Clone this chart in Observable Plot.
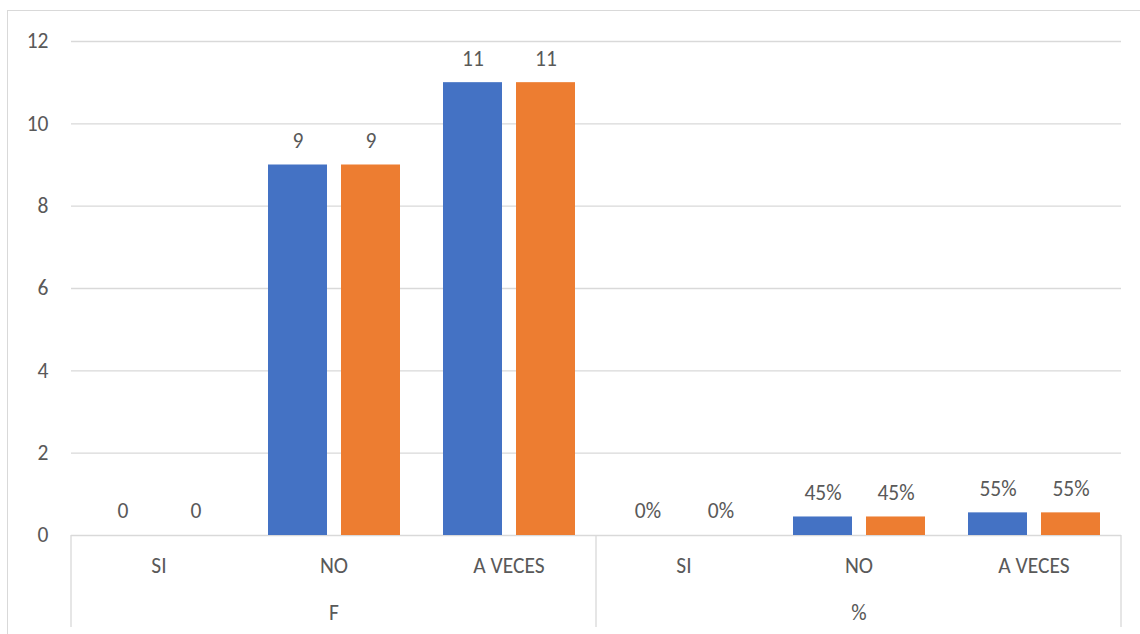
<!DOCTYPE html>
<html>
<head>
<meta charset="utf-8">
<script src="https://cdn.jsdelivr.net/npm/d3@7"></script>
<script src="https://cdn.jsdelivr.net/npm/@observablehq/plot@0.6"></script>
<style>
  html, body { margin: 0; padding: 0; background: #fff; }
  #wrap { position: absolute; left: 7px; top: 10px; width: 1133px; height: 624px;
          border-left: 1px solid #d9d9d9; border-top: 1px solid #d9d9d9; overflow: hidden; }
</style>
</head>
<body>
<div id="wrap"></div>
<script>
const groups = ["F", "%"];
const categories = ["SI", "NO", "A VECES"];
const seriesNames = ["Serie 1", "Serie 2"];
const serie1F = [0, 9, 11];
const serie2F = [0, 9, 11];
const serie1Pct = [0, 0.45, 0.55];
const serie2Pct = [0, 0.45, 0.55];
const yTicks = [0, 2, 4, 6, 8, 10, 12];
const colors = ["#4472C4", "#ED7D31"];

const valuesByGroup = {
  "F": [serie1F, serie2F],
  "%": [serie1Pct, serie2Pct]
};

const keys = [];
const catRows = [];
const rows = [];
groups.forEach(g => {
  categories.forEach((c, ci) => {
    const key = g + "|" + c;
    keys.push(key);
    catRows.push({key, category: c});
    seriesNames.forEach((s, si) => {
      const v = valuesByGroup[g][si][ci];
      rows.push({key, group: g, category: c, series: s, value: v,
        label: g === "%" ? Math.round(v * 100) + "%" : String(v)});
    });
  });
});
const groupRows = groups.map(g => ({key: g + "|" + categories[1], label: g}));

const font = "Carlito, Lato, sans-serif";
const fs = 21.5;
const chart = Plot.plot({
  width: 1132,
  height: 623,
  marginLeft: 63,
  marginRight: 19,
  marginTop: 30,
  marginBottom: 99,
  style: {fontFamily: font, fontSize: fs + "px", color: "#595959", background: "#fff", overflow: "visible"},
  fx: {domain: keys, padding: 0, axis: null},
  x: {domain: seriesNames, paddingInner: 0.192, paddingOuter: 0.2945, axis: null},
  y: {domain: [0, 12], axis: null},
  color: {domain: seriesNames, range: colors},
  marks: [
    Plot.gridY(yTicks, {stroke: "#d9d9d9", strokeOpacity: 1, strokeWidth: 1.3}),
    Plot.axisY(yTicks, {tickSize: 0, tickPadding: 23, fill: "#595959", fontSize: fs, label: null, facetAnchor: "left"}),
    Plot.barY(rows, {fx: "key", x: "series", y: "value", fill: "series"}),
    Plot.text(rows, {fx: "key", x: "series", y: "value", text: "label", dy: -24, fill: "#595959", fontSize: fs}),
    Plot.text(catRows, {fx: "key", text: "category", frameAnchor: "bottom", dy: 37, fill: "#595959", fontSize: fs}),
    Plot.text(groupRows, {fx: "key", text: "label", frameAnchor: "bottom", dy: 84, fill: "#595959", fontSize: fs})
  ]
});
document.getElementById("wrap").appendChild(chart);

// category-axis separators drawn from the library's own scales
const fx = chart.scale("fx");
const yS = chart.scale("y");
const y0 = yS.apply(0);
const seps = [fx.apply(keys[0]), fx.apply(keys[3]), fx.apply(keys[keys.length - 1]) + fx.bandwidth];
d3.select(chart).append("g")
  .attr("stroke", "#d9d9d9").attr("stroke-width", 1.3)
  .selectAll("line").data(seps).join("line")
  .attr("x1", d => d).attr("x2", d => d)
  .attr("y1", y0).attr("y2", y0 + 92);
</script>
</body>
</html>
